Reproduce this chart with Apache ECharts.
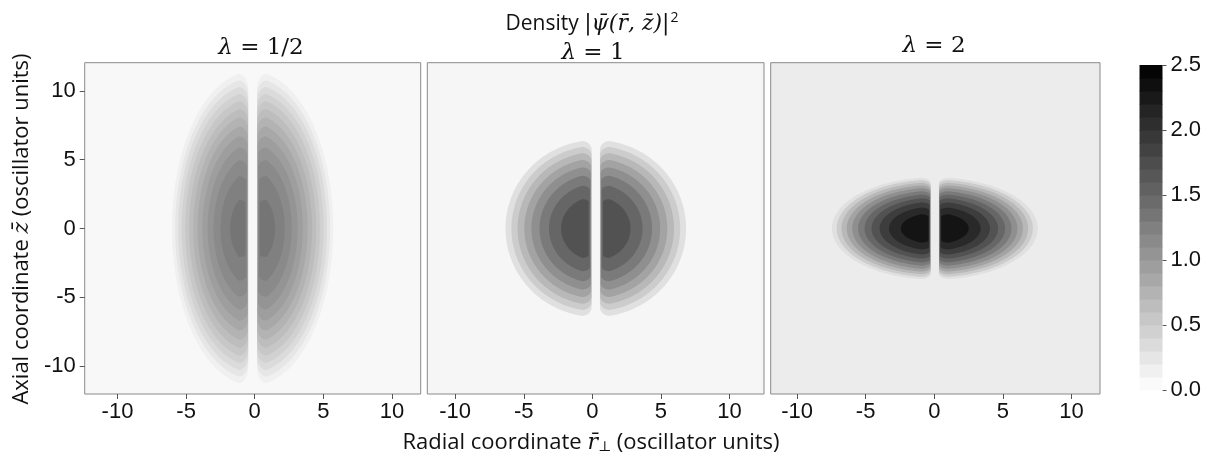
<!DOCTYPE html>
<html>
<head>
<meta charset="utf-8">
<script src="https://cdn.jsdelivr.net/npm/echarts@6/dist/echarts.min.js"></script>
<style>
  html, body { margin: 0; padding: 0; background: #ffffff; }
  #chart { width: 1220px; height: 459px; }
</style>
</head>
<body>
<div id="chart"></div>
<script>
// Trap anisotropy of each panel
const lambdaLabels = ['1/2', '1', '2'];

// Filled contour levels of the density |psi|^2 in each panel, with the
// geometry of each level's boundary (oscillator units, one half of the cloud):
// inner edge (vortex core side) and outer edge on the z = 0 line, and half height.
const levelsHalf = [0.1, 0.2, 0.3, 0.4, 0.5, 0.6, 0.7, 0.8, 0.9, 1.0, 1.1, 1.2, 1.3];
const innerHalf  = [0.32, 0.32, 0.33, 0.33, 0.34, 0.34, 0.35, 0.36, 0.37, 0.39, 0.41, 0.45, 0.52];
const outerHalf  = [5.88, 5.65, 5.42, 5.17, 4.91, 4.63, 4.33, 4.01, 3.66, 3.28, 2.85, 2.34, 1.64];
const heightHalf = [11.24, 10.76, 10.28, 9.77, 9.24, 8.67, 8.07, 7.41, 6.70, 5.89, 4.96, 3.80, 2.07];

const levelsOne = [0.2, 0.4, 0.6, 0.8, 1.0, 1.2, 1.4, 1.6];
const innerOne  = [0.30, 0.31, 0.32, 0.34, 0.36, 0.39, 0.43, 0.52];
const outerOne  = [6.58, 6.15, 5.70, 5.21, 4.69, 4.10, 3.41, 2.53];
const heightOne = [6.35, 5.92, 5.47, 4.98, 4.44, 3.83, 3.10, 2.13];

const levelsTwo = [0.2, 0.4, 0.6, 0.8, 1.0, 1.2, 1.4, 1.6, 1.8, 2.0, 2.2];
const innerTwo  = [0.30, 0.30, 0.31, 0.32, 0.33, 0.34, 0.35, 0.37, 0.39, 0.42, 0.47];
const outerTwo  = [7.50, 7.15, 6.80, 6.42, 6.02, 5.59, 5.12, 4.61, 4.02, 3.34, 2.47];
const heightTwo = [3.68, 3.51, 3.32, 3.13, 2.93, 2.70, 2.46, 2.19, 1.89, 1.52, 1.03];

// Radius of the density crest and the cloud centre on each panel's axis
const crestX  = [1.0, 1.0, 1.0];
const centreX = [-0.15, 0.25, 0.04];

// Colour bar
const colorbarLevels = [0.0, 0.1, 0.2, 0.3, 0.4, 0.5, 0.6, 0.7, 0.8, 0.9, 1.0, 1.1, 1.2,
                        1.3, 1.4, 1.5, 1.6, 1.7, 1.8, 1.9, 2.0, 2.1, 2.2, 2.3, 2.4];
const colorbarTicks = [0, 0.5, 1.0, 1.5, 2.0, 2.5];
const axisTicks = [-10, -5, 0, 5, 10];

const panels = [
  { levels: levelsHalf, inner: innerHalf, outer: outerHalf, height: heightHalf },
  { levels: levelsOne,  inner: innerOne,  outer: outerOne,  height: heightOne },
  { levels: levelsTwo,  inner: innerTwo,  outer: outerTwo,  height: heightTwo }
];

// Layout and fill of the three plot boxes
const boxes = [
  { left: 84.7,  width: 336.0, xMin: -12.39, xMax: 12.10, background: '#f8f8f8' },
  { left: 427.3, width: 336.7, xMin: -12.03, xMax: 12.51, background: '#f6f6f6' },
  { left: 770.7, width: 329.3, xMin: -11.92, xMax: 12.08, background: '#ececec' }
];
const plotTop = 62.7, plotHeight = 331.3, zMin = -12.03, zMax = 12.05;

const V_MAX = 2.5;
function shade(v) {
  const t = Math.min(1, Math.max(0, v / V_MAX));
  const c = Math.round(255 * (1 - t));
  return 'rgb(' + c + ',' + c + ',' + c + ')';
}

const SANS = 'Liberation Sans';
const LABEL = 'Open Sans';
const SERIF = 'DejaVu Serif';
const CAP = 0.1;   // rounded tip of the core edge, as a share of the half height

// Outline of one half of a contour band (x >= 0 side), in data units
function halfOutline(xi, xo, zh, xp) {
  const pts = [];
  const N = 160;
  for (let i = 0; i <= N; i++) {            // outer arc, bottom crest -> top crest
    const th = -Math.PI / 2 + Math.PI * i / N;
    const q = Math.max(Math.cos(th), 0);
    pts.push([Math.sqrt(xp * xp + (xo * xo - xp * xp) * q * q), Math.sin(th) * zh]);
  }
  const c = Math.max(CAP * zh, 0.2);
  const M = 24;
  for (let j = 0; j <= M; j++) {            // top tip of the core edge
    const ph = (Math.PI / 2) * j / M;
    pts.push([xp - (xp - xi) * Math.sin(ph), zh - c * (1 - Math.cos(ph))]);
  }
  for (let j = M; j >= 0; j--) {            // bottom tip of the core edge
    const ph = (Math.PI / 2) * j / M;
    pts.push([xp - (xp - xi) * Math.sin(ph), -zh + c * (1 - Math.cos(ph))]);
  }
  return pts;
}

function bandRenderer(p) {
  return function (params, api) {
    const lo = api.value(0), xi = api.value(1), xo = api.value(2), zh = api.value(3), hi = api.value(4);
    const cx = centreX[p];
    const half = halfOutline(xi, xo, zh, crestX[p]);
    const fill = shade((lo + hi) / 2);
    const poly = sign => ({
      type: 'polygon',
      shape: { points: half.map(pt => api.coord([cx + sign * pt[0], pt[1]])) },
      style: { fill: fill }
    });
    return { type: 'group', children: [poly(1), poly(-1)] };
  };
}

const grids = boxes.map(b => ({
  left: b.left, top: plotTop, width: b.width, height: plotHeight,
  show: true, backgroundColor: b.background,
  borderColor: '#8a8a8a', borderWidth: 1
}));
grids.push({ left: 1139.5, top: 65, width: 23, height: 325, show: false });

const xAxes = boxes.map((b, i) => ({
  gridIndex: i, type: 'value', min: b.xMin, max: b.xMax, position: 'bottom',
  axisLine: { show: false, onZero: false }, splitLine: { show: false },
  axisTick: { show: true, inside: false, length: 5, customValues: axisTicks,
              lineStyle: { color: '#555', width: 1 } },
  axisLabel: { customValues: axisTicks, fontSize: 22, color: '#111', margin: 7, fontFamily: SANS }
}));
xAxes.push({ gridIndex: 3, type: 'value', min: 0, max: 1, show: false });

const yAxes = boxes.map((b, i) => ({
  gridIndex: i, type: 'value', min: zMin, max: zMax, position: 'left',
  show: i === 0,
  axisLine: { show: false, onZero: false }, splitLine: { show: false },
  axisTick: { show: i === 0, inside: false, length: 5, customValues: axisTicks,
              lineStyle: { color: '#555', width: 1 } },
  axisLabel: { show: i === 0, customValues: axisTicks, fontSize: 22, color: '#111', margin: 9, fontFamily: SANS }
}));
yAxes.push({
  gridIndex: 3, type: 'value', min: 0, max: V_MAX, interval: 0.5, position: 'right',
  axisLine: { show: false, onZero: false }, splitLine: { show: false },
  axisTick: { show: true, length: 4, lineStyle: { color: '#555' } },
  axisLabel: { fontSize: 22, color: '#111', margin: 8, fontFamily: SANS,
               formatter: v => v.toFixed(1) }
});

const series = panels.map((pn, p) => {
  const step = pn.levels.length > 1 ? pn.levels[1] - pn.levels[0] : 0.1;
  return {
    type: 'custom', xAxisIndex: p, yAxisIndex: p,
    renderItem: bandRenderer(p),
    data: pn.levels.map((L, k) => [L, pn.inner[k], pn.outer[k], pn.height[k],
                                   k + 1 < pn.levels.length ? pn.levels[k + 1] : L + step]),
    silent: true, animation: false
  };
});
series.push({
  type: 'custom', xAxisIndex: 3, yAxisIndex: 3, silent: true, animation: false,
  data: colorbarLevels.map(L => [L]),
  renderItem: function (params, api) {
    const lo = api.value(0), hi = lo + 0.1;
    const a = api.coord([0, hi]), b = api.coord([1, lo]);
    return { type: 'rect', shape: { x: a[0], y: a[1], width: b[0] - a[0], height: b[1] - a[1] + 0.5 },
             style: { fill: shade((lo + hi) / 2) } };
  }
});

const titleCentres = [[261, 48], [593, 53], [934, 46]];
const graphics = lambdaLabels.map((lab, i) => ({
  type: 'text', x: titleCentres[i][0], y: titleCentres[i][1],
  style: {
    text: '{i|λ}{n| = ' + lab + '}',
    align: 'center', verticalAlign: 'middle',
    rich: {
      i: { fontFamily: SERIF, fontStyle: 'italic', fontSize: 23, fill: '#111' },
      n: { fontFamily: SERIF, fontSize: 23, fill: '#111' }
    }
  }
}));
graphics.push({
  type: 'text', x: 592, y: 24,
  style: {
    text: '{a|Density }{m||ψ\u0304(r\u0304, z\u0304)|}{s|2}',
    align: 'center', verticalAlign: 'middle',
    rich: {
      a: { fontFamily: LABEL, fontSize: 21, fill: '#111' },
      m: { fontFamily: SERIF, fontStyle: 'italic', fontSize: 22, fill: '#111' },
      s: { fontFamily: LABEL, fontSize: 14, fill: '#111', verticalAlign: 'top', padding: [0, 0, 12, 1] }
    }
  }
});
graphics.push({
  type: 'text', x: 591, y: 443,
  style: {
    text: '{t|Radial coordinate }{m|r\u0304}{b|⊥}{t| (oscillator units)}',
    align: 'center', verticalAlign: 'middle',
    rich: {
      t: { fontFamily: LABEL, fontSize: 22, fill: '#111' },
      m: { fontFamily: SERIF, fontStyle: 'italic', fontSize: 22, fill: '#111' },
      b: { fontFamily: SERIF, fontSize: 14, fill: '#111', verticalAlign: 'bottom' }
    }
  }
});
graphics.push({
  type: 'text', x: 22, y: 229, rotation: Math.PI / 2,
  style: {
    text: '{t|Axial coordinate }{m|z\u0304}{t| (oscillator units)}',
    align: 'center', verticalAlign: 'middle',
    rich: {
      t: { fontFamily: LABEL, fontSize: 22, fill: '#111' },
      m: { fontFamily: SERIF, fontStyle: 'italic', fontSize: 22, fill: '#111' }
    }
  }
});

const chart = echarts.init(document.getElementById('chart'), null, { renderer: 'canvas' });
chart.setOption({
  animation: false,
  backgroundColor: '#ffffff',
  grid: grids,
  xAxis: xAxes,
  yAxis: yAxes,
  series: series,
  graphic: graphics
});
</script>
</body>
</html>
